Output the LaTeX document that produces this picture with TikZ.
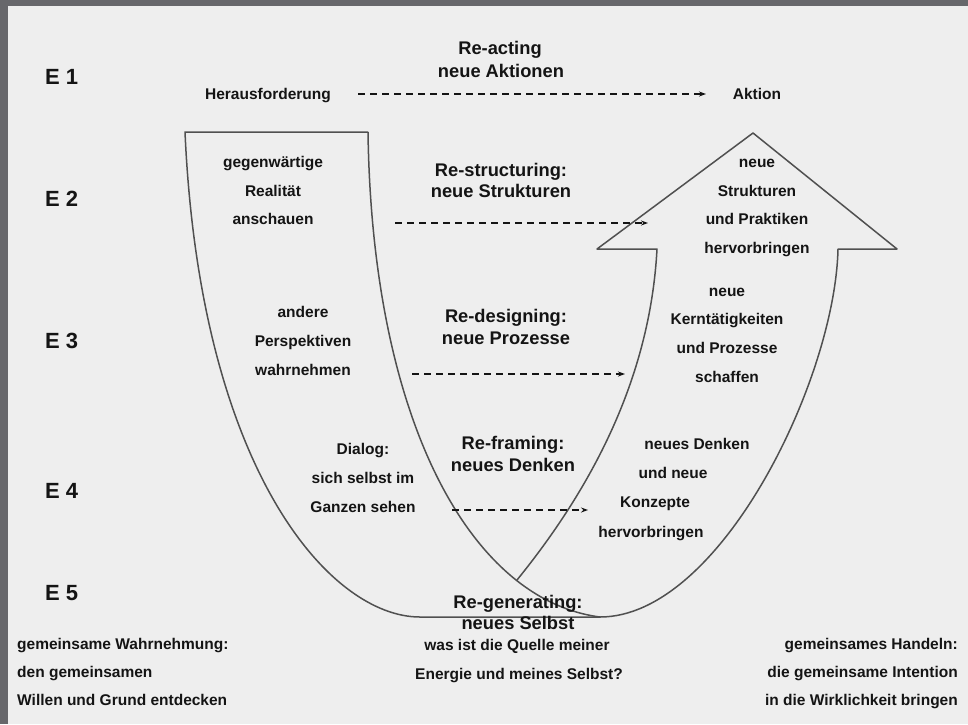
\documentclass[tikz,border=0pt]{standalone}
\usepackage{fontspec}
\setmainfont{Liberation Sans}
\usetikzlibrary{arrows.meta}
\definecolor{bgc}{HTML}{EEEEEE}
\definecolor{framec}{HTML}{67676B}
\definecolor{linec}{HTML}{505050}
\definecolor{txtc}{HTML}{141414}
\begin{document}
\begin{tikzpicture}[x=1pt,y=-1pt,
  lab/.style={font=\bfseries\fontsize{15.5}{18}\selectfont, text=txtc, inner sep=0pt, text height=11pt, text depth=3pt},
  head/.style={font=\bfseries\fontsize{18.3}{21}\selectfont, text=txtc, inner sep=0pt, text height=13pt, text depth=4pt},
  elab/.style={font=\bfseries\fontsize{22}{26}\selectfont, text=txtc, inner sep=0pt, anchor=west, text height=16pt, text depth=0pt},
  dashar/.style={draw=txtc, line width=1.3pt, dash pattern=on 7pt off 5pt, -{Stealth[length=7pt,width=5pt]}},
  ushape/.style={draw=linec, line width=1.5pt, line join=round}
]
\fill[bgc] (0,0) rectangle (968,724);
\fill[framec] (0,0) rectangle (968,6);
\fill[framec] (0,0) rectangle (8,724);
\useasboundingbox (0,0) rectangle (968,724);

% U shape with arrow
\draw[ushape] (368,132) -- (185,132) .. controls (200,470) and (330,617) .. (420,617)
  -- (600,617) .. controls (720,617) and (835,380) .. (838,249)
  -- (897,249) -- (753,133) -- (597,249) -- (657,249)
  .. controls (650,380) and (590,490) .. (517,580);
\draw[ushape] (368,132) .. controls (372,420) and (470,600) .. (600,617);

% level labels
\node[elab] (e1) at (45,76) {E 1};
\node[elab] (e2) at (45,198) {E 2};
\node[elab] (e3) at (45,340) {E 3};
\node[elab] (e4) at (45,490) {E 4};
\node[elab] (e5) at (45,592) {E 5};

% E1
\node[head] (ract) at (500,50) {Re-acting};
\node[head] (rakt) at (501,73) {neue Aktionen};
\node[lab] (her) at (268,95) {Herausforderung};
\node[lab] (akt) at (757,95) {Aktion};
\coordinate (d1s) at (358,94);
\coordinate (d1e) at (706,94);
\draw[dashar] (d1s) -- (d1e);

% E2
\node[lab] (l2a) at (273,163) {gegenwärtige};
\node[lab] (l2b) at (273,192) {Realität};
\node[lab] (l2c) at (273,220) {anschauen};
\node[head] (rs1) at (501,172) {Re-structuring:};
\node[head] (rs2) at (501,193) {neue Strukturen};
\node[lab] (r2a) at (757,163) {neue};
\node[lab] (r2b) at (757,192) {Strukturen};
\node[lab] (r2c) at (757,220) {und Praktiken};
\node[lab] (r2d) at (757,249) {hervorbringen};
\coordinate (d2s) at (395,223);
\coordinate (d2e) at (648,223);
\draw[dashar] (d2s) -- (d2e);

% E3
\node[lab] (l3a) at (303,313) {andere};
\node[lab] (l3b) at (303,342) {Perspektiven};
\node[lab] (l3c) at (303,371) {wahrnehmen};
\node[head] (rd1) at (506,318) {Re-designing:};
\node[head] (rd2) at (506,340) {neue Prozesse};
\node[lab] (r3a) at (727,292) {neue};
\node[lab] (r3b) at (727,320) {Kerntätigkeiten};
\node[lab] (r3c) at (727,349) {und Prozesse};
\node[lab] (r3d) at (727,378) {schaffen};
\coordinate (d3s) at (412,374);
\coordinate (d3e) at (625,374);
\draw[dashar] (d3s) -- (d3e);

% E4
\node[lab] (l4a) at (363,450) {Dialog:};
\node[lab] (l4b) at (363,479) {sich selbst im};
\node[lab] (l4c) at (363,508) {Ganzen sehen};
\node[head] (rf1) at (513,445) {Re-framing:};
\node[head] (rf2) at (513,467) {neues Denken};
\node[lab] (r4a) at (697,445) {neues Denken};
\node[lab] (r4b) at (673,474) {und neue};
\node[lab] (r4c) at (655,503) {Konzepte};
\node[lab] (r4d) at (651,533) {hervorbringen};
\coordinate (d4s) at (452,510);
\coordinate (d4e) at (588,510);
\draw[dashar] (d4s) -- (d4e);

% E5
\node[head] (rg1) at (518,604) {Re-generating:};
\node[head] (rg2) at (518,625) {neues Selbst};
\node[lab] (c1) at (517,646) {was ist die Quelle meiner};
\node[lab] (c2) at (519,675) {Energie und meines Selbst?};
\node[lab, anchor=west] (b1) at (17,645) {gemeinsame Wahrnehmung:};
\node[lab, anchor=west] (b2) at (17,673) {den gemeinsamen};
\node[lab, anchor=west] (b3) at (17,701) {Willen und Grund entdecken};
\node[lab, anchor=east] (b4) at (958,645) {gemeinsames Handeln:};
\node[lab, anchor=east] (b5) at (958,673) {die gemeinsame Intention};
\node[lab, anchor=east] (b6) at (958,701) {in die Wirklichkeit bringen};
\end{tikzpicture}
\end{document}
